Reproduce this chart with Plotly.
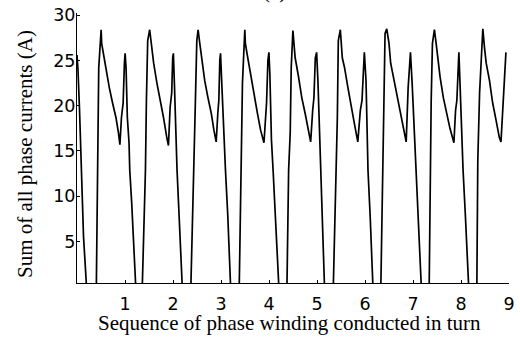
import plotly.graph_objects as go

# Sequence of phase winding conducted in turn (x) and summed phase current in A (y)
turn = [
    0.000, 0.020, 0.053, 0.095, 0.115, 0.136, 0.177, 0.198,
    0.403, 0.413, 0.432, 0.453, 0.503, 0.514, 0.549, 0.605, 0.673, 0.741, 0.811, 0.864,
    0.894, 0.926, 0.961, 0.988, 1.002, 1.022, 1.049, 1.084, 1.099, 1.140, 1.173, 1.208, 1.224,
    1.360, 1.426, 1.446, 1.473, 1.514, 1.549, 1.597, 1.665, 1.735, 1.802, 1.870, 1.905,
    1.940, 1.973, 1.994, 2.008, 2.029, 2.064, 2.084, 2.130, 2.170, 2.193,
    2.372, 2.440, 2.467, 2.496, 2.523, 2.558, 2.605, 2.660, 2.728, 2.796, 2.852, 2.900,
    2.934, 2.955, 2.975, 2.990, 3.016, 3.058, 3.093, 3.140, 3.175, 3.200,
    3.380, 3.413, 3.447, 3.496, 3.508, 3.541, 3.596, 3.666, 3.757, 3.825, 3.895,
    3.928, 3.949, 3.977, 3.998, 4.018, 4.051, 4.085, 4.130, 4.175, 4.205,
    4.374, 4.409, 4.442, 4.463, 4.498, 4.512, 4.545, 4.615, 4.683, 4.751, 4.821, 4.868,
    4.910, 4.936, 4.965, 4.992, 5.019, 5.060, 5.074, 5.110, 5.140, 5.156,
    5.340, 5.403, 5.424, 5.444, 5.486, 5.527, 5.574, 5.644, 5.712, 5.780, 5.850,
    5.903, 5.938, 5.965, 5.986, 6.021, 6.056, 6.062, 6.110, 6.145, 6.165,
    6.330, 6.377, 6.397, 6.418, 6.453, 6.500, 6.535, 6.603, 6.673, 6.741, 6.809, 6.858,
    6.899, 6.926, 6.947, 6.982, 7.035, 7.064, 7.110, 7.150, 7.173,
    7.337, 7.358, 7.379, 7.405, 7.446, 7.475, 7.516, 7.564, 7.632, 7.702, 7.770, 7.852,
    7.887, 7.914, 7.942, 7.956, 7.977, 8.023, 8.043, 8.090, 8.130, 8.160,
    8.330, 8.350, 8.387, 8.422, 8.455, 8.490, 8.525, 8.593, 8.660, 8.730, 8.798, 8.833,
    8.866, 8.901, 8.936,
]
current_sum = [
    25.6, 24.0, 19.5, 12.9, 9.6, 5.5, 1.9, 0.0,
    0.0, 5.5, 12.9, 24.2, 28.4, 26.9, 25.8, 23.9, 22.0, 20.3, 18.7, 17.0,
    15.7, 18.7, 20.3, 24.7, 25.8, 24.2, 18.7, 15.9, 12.9, 9.2, 5.5, 1.9, 0.0,
    0.0, 12.9, 20.6, 27.2, 28.4, 26.9, 24.7, 22.5, 20.6, 18.7, 16.5, 15.6,
    19.8, 21.4, 25.3, 25.8, 22.5, 16.2, 12.9, 7.5, 3.0, 0.0,
    0.0, 12.9, 20.6, 27.2, 28.4, 26.9, 24.7, 22.8, 20.9, 19.2, 17.3, 16.0,
    19.2, 20.6, 25.0, 25.8, 22.5, 16.2, 12.9, 8.0, 3.5, 0.0,
    0.0, 12.9, 22.5, 28.4, 26.9, 25.8, 23.9, 22.0, 19.2, 17.3, 15.9,
    19.2, 20.3, 25.0, 25.9, 23.5, 16.2, 12.9, 8.5, 3.5, 0.0,
    0.0, 12.9, 17.0, 24.2, 28.3, 27.2, 25.3, 23.2, 20.9, 19.2, 17.1, 16.0,
    19.5, 20.9, 25.3, 25.9, 22.8, 15.9, 12.9, 7.5, 3.0, 0.0,
    0.0, 12.9, 18.7, 27.2, 28.4, 25.3, 24.2, 22.0, 19.8, 18.0, 16.0,
    19.5, 20.6, 25.0, 25.9, 22.8, 16.2, 12.9, 7.5, 3.0, 0.0,
    0.0, 12.9, 20.6, 28.0, 28.5, 26.9, 24.7, 22.8, 20.9, 19.2, 17.3, 16.0,
    22.0, 24.2, 25.9, 22.5, 15.9, 12.9, 7.5, 3.0, 0.0,
    0.0, 12.9, 20.6, 26.9, 28.4, 27.2, 25.0, 23.2, 20.9, 19.2, 17.5, 15.9,
    19.5, 20.6, 25.8, 25.9, 22.8, 15.4, 12.9, 8.0, 3.5, 0.0,
    0.0, 14.0, 21.4, 25.8, 28.5, 26.4, 24.7, 22.8, 20.3, 18.4, 16.5, 16.0,
    19.5, 21.7, 25.9,
]

x_ticks = [1, 2, 3, 4, 5, 6, 7, 8, 9]
x_tick_labels = ["1", "2", "3", "4", "5", "6", "7", "8", "9"]
y_ticks = [5, 10, 15, 20, 25, 30]
y_tick_labels = ["5", "10", "15", "20", "25", "30"]

x_title = "Sequence of phase winding conducted in turn"
y_title = "Sum of all phase currents (A)"
panel_title = "(a)"

serif = "Liberation Serif, Times New Roman, serif"
sans = "DejaVu Sans, sans-serif"

fig = go.Figure()
fig.add_trace(go.Scatter(
    x=turn, y=current_sum, mode="lines",
    line=dict(color="black", width=1.7),
    hoverinfo="skip", showlegend=False,
))

fig.update_layout(
    width=520, height=337,
    margin=dict(l=77.4, r=5.2, t=13.3, b=53.7, pad=0),
    paper_bgcolor="white", plot_bgcolor="white",
    showlegend=False,
    xaxis=dict(
        range=[0, 9], showgrid=False, zeroline=False,
        showline=True, linecolor="black", linewidth=1,
        ticks="inside", ticklen=3, tickwidth=1, tickcolor="black",
        tickmode="array", tickvals=x_ticks, ticktext=x_tick_labels,
        tickfont=dict(family=sans, size=17.5, color="black"),
        ticklabelstandoff=5, ticklabeloverflow="allow",
    ),
    yaxis=dict(
        range=[0.4, 30.25], showgrid=False, zeroline=False,
        showline=True, linecolor="black", linewidth=1,
        ticks="inside", ticklen=3, tickwidth=1, tickcolor="black",
        tickmode="array", tickvals=y_ticks, ticktext=y_tick_labels,
        tickfont=dict(family=sans, size=17.5, color="black"),
        ticklabelstandoff=-3, ticklabeloverflow="allow",
    ),
    annotations=[
        dict(text=x_title, xref="paper", yref="paper", x=0.493, y=-0.147,
             xanchor="center", yanchor="middle", showarrow=False,
             font=dict(family=serif, size=21, color="black")),
        dict(text=y_title, xref="paper", yref="paper", x=-0.122, y=0.479,
             xanchor="center", yanchor="middle", textangle=-90, showarrow=False,
             font=dict(family=serif, size=21, color="black")),
        dict(text=panel_title, xref="paper", yref="paper", x=0.4575, y=1.031,
             xanchor="center", yanchor="bottom", showarrow=False,
             font=dict(family=serif, size=21, color="black")),
    ],
)

# remove the page's default 8px body margin so the 520x337 figure fills the window
fig.write_html(
    "out.html",
    config={"displayModeBar": False},
    post_script="document.body.style.margin='0';",
)
